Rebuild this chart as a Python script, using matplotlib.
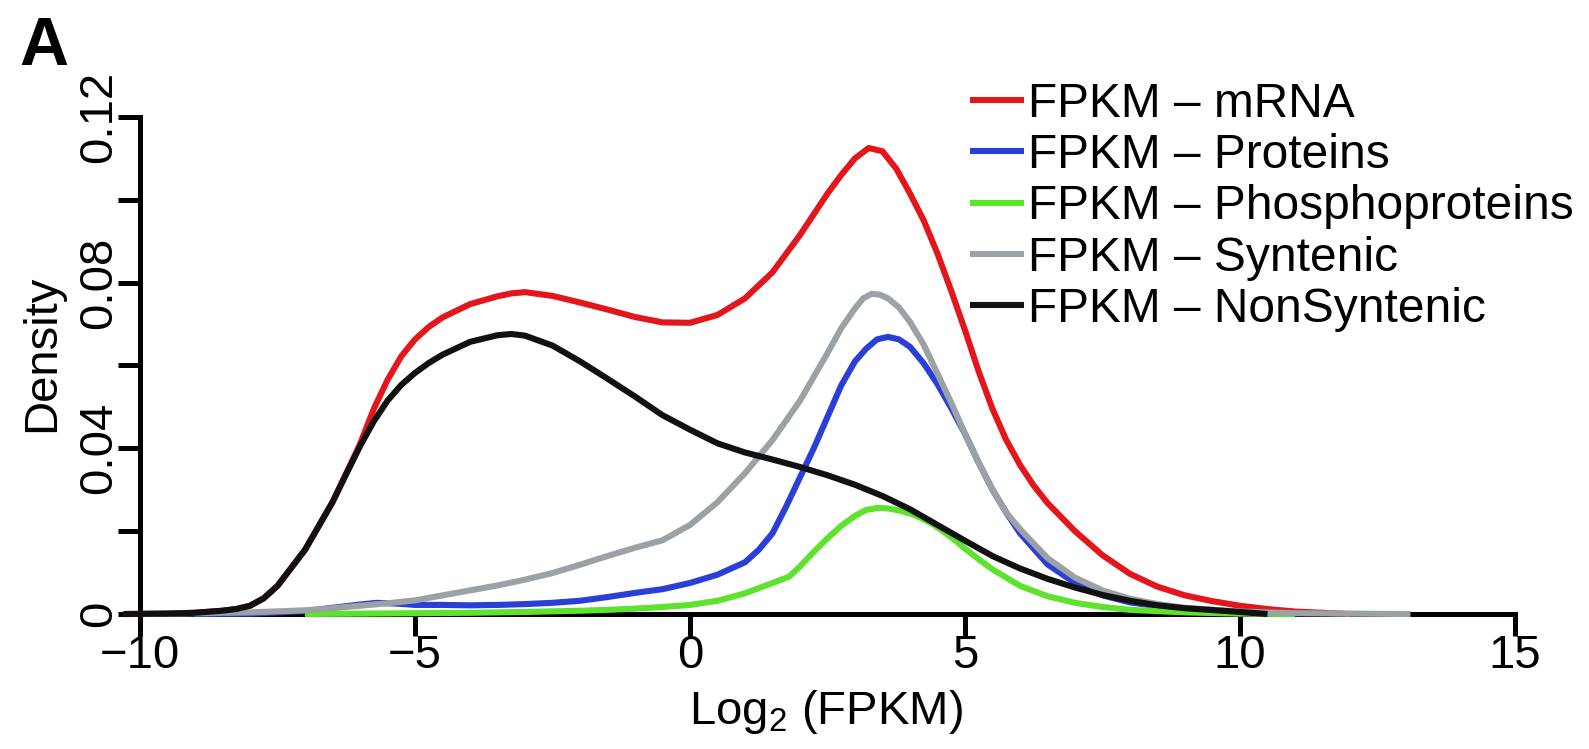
import matplotlib
matplotlib.use('Agg')
import matplotlib.pyplot as plt

plt.rcParams['font.family'] = ['Liberation Sans', 'DejaVu Sans']
plt.rcParams['mathtext.fontset'] = 'custom'
plt.rcParams['mathtext.rm'] = 'Liberation Sans'
plt.rcParams['mathtext.default'] = 'regular'

# ---------------- data ----------------
mrna_x = [-10.3, -9.5, -9, -8.5, -8.25, -8, -7.75, -7.5, -7, -6.5,
          -6, -5.75, -5.5, -5.25, -5, -4.75, -4.5, -4, -3.5, -3.25, -3,
          -2.5, -2, -1.5, -1, -0.5, 0, 0.5, 1, 1.5, 2,
          2.5, 2.75, 3, 3.25, 3.5, 3.75, 4, 4.25, 4.5, 4.75,
          5, 5.25, 5.5, 5.75, 6, 6.25, 6.5, 7, 7.5, 8,
          8.5, 9, 9.5, 10, 10.5, 11, 11.5, 12]
mrna_y = [0.0, 0.0001, 0.0003, 0.0008, 0.0012, 0.002, 0.0038, 0.0068, 0.0155, 0.027,
          0.041, 0.0495, 0.0565, 0.0622, 0.0663, 0.0693, 0.0716, 0.0748, 0.0767, 0.0774, 0.0777,
          0.0768, 0.0752, 0.0735, 0.0717, 0.0704, 0.0703, 0.0722, 0.0762, 0.0825, 0.0915,
          0.1015, 0.106, 0.11, 0.1125, 0.1117, 0.1075, 0.1015, 0.095, 0.087, 0.078,
          0.0685, 0.0585, 0.0495, 0.042, 0.036, 0.031, 0.0268, 0.02, 0.0142, 0.0097,
          0.0066, 0.0045, 0.0031, 0.002, 0.0012, 0.0006, 0.0003, 0.0]

prot_x = [-9, -8, -7, -6.5, -6, -5.7, -5.3, -5, -4.5, -4,
          -3.5, -3, -2.5, -2, -1.5, -1, -0.5, 0, 0.5, 1,
          1.25, 1.5, 1.75, 2, 2.25, 2.5, 2.75, 3, 3.2, 3.4,
          3.6, 3.8, 4, 4.25, 4.5, 4.75, 5, 5.25, 5.5, 5.75,
          6, 6.5, 7, 7.5, 8, 9, 10, 11]
prot_y = [0.0, 0.0001, 0.0007, 0.0015, 0.0023, 0.0027, 0.0025, 0.0022, 0.0022, 0.0021,
          0.0022, 0.0024, 0.0027, 0.0032, 0.0041, 0.0051, 0.006, 0.0075, 0.0095, 0.0125,
          0.0155, 0.0195, 0.026, 0.033, 0.04, 0.0476, 0.0552, 0.061, 0.064, 0.0663,
          0.0669, 0.0663, 0.0645, 0.0605, 0.0555, 0.0497, 0.0435, 0.0365, 0.03, 0.0245,
          0.0195, 0.012, 0.0075, 0.0045, 0.0028, 0.001, 0.0003, 0.0]

phos_x = [-7, -6, -5, -4, -3, -2, -1.5, -1, -0.5, 0,
          0.5, 1, 1.5, 1.8, 2, 2.25, 2.5, 2.75, 3, 3.2,
          3.4, 3.6, 3.8, 4, 4.2, 4.4, 4.6, 4.8, 5, 5.25,
          5.5, 6, 6.5, 7, 7.5, 8, 9, 10, 11]
phos_y = [0.0, 0.0001, 0.0002, 0.0003, 0.0005, 0.0008, 0.001, 0.0013, 0.0017, 0.0022,
          0.0032, 0.005, 0.0075, 0.009, 0.0115, 0.015, 0.0183, 0.0213, 0.0237, 0.0251,
          0.0256, 0.0255, 0.025, 0.0243, 0.0232, 0.0218, 0.02, 0.018, 0.0158, 0.0132,
          0.0108, 0.0068, 0.0043, 0.0027, 0.0017, 0.001, 0.0004, 0.0001, 0.0]

synt_x = [-10, -9, -8, -7, -6.5, -6, -5.5, -5, -4.5, -4,
          -3.5, -3, -2.5, -2, -1.5, -1, -0.5, 0, 0.5, 1,
          1.5, 2, 2.5, 2.75, 3, 3.15, 3.3, 3.45, 3.6, 3.8,
          4, 4.25, 4.5, 4.75, 5, 5.25, 5.5, 5.75, 6, 6.5,
          7, 7.5, 8, 8.5, 9, 10, 11, 12, 13.1]
synt_y = [0.0, 0.0002, 0.0004, 0.0009, 0.0014, 0.002, 0.0026, 0.0033, 0.0045, 0.0057,
          0.0069, 0.0083, 0.0099, 0.0119, 0.014, 0.016, 0.0178, 0.0215, 0.027, 0.034,
          0.042, 0.0515, 0.063, 0.069, 0.0738, 0.0762, 0.0773, 0.0771, 0.0762, 0.074,
          0.0705, 0.065, 0.058, 0.051, 0.0435, 0.0365, 0.03, 0.0245, 0.0205, 0.0135,
          0.0088, 0.0057, 0.0037, 0.0024, 0.0015, 0.0006, 0.0002, 0.0001, 0.0]

nonsynt_x = [-10.3, -9.5, -9, -8.5, -8.25, -8, -7.75, -7.5, -7, -6.5,
             -6.25, -6, -5.75, -5.5, -5.25, -5, -4.75, -4.5, -4, -3.5, -3.25, -3,
             -2.5, -2, -1.5, -1, -0.5, 0, 0.5, 1, 1.5, 2,
             2.5, 3, 3.5, 4, 4.5, 5, 5.5, 6, 6.5, 7,
             7.5, 8, 8.5, 9, 10, 10.5]
nonsynt_y = [0.0, 0.0001, 0.0003, 0.0008, 0.0012, 0.002, 0.0038, 0.0068, 0.0155, 0.027,
             0.0338, 0.0405, 0.0465, 0.0515, 0.0553, 0.0582, 0.0606, 0.0626, 0.0657, 0.0673, 0.0676, 0.0672,
             0.0648, 0.061, 0.0568, 0.0525, 0.048, 0.0445, 0.0412, 0.039, 0.0373, 0.0355,
             0.0335, 0.0312, 0.0285, 0.0253, 0.0215, 0.0177, 0.014, 0.011, 0.0085, 0.0064,
             0.0046, 0.0032, 0.0021, 0.0014, 0.0005, 0.0]

series_labels = ['FPKM – mRNA', 'FPKM – Proteins', 'FPKM – Phosphoproteins',
                 'FPKM – Syntenic', 'FPKM – NonSyntenic']
series_colors = ['#e3161b', '#2a3ed8', '#5fe22e', '#9ba2a6', '#111111']

x_ticks = [-10, -5, 0, 5, 10, 15]
x_tick_labels = ['\u221210', '\u22125', '0', '5', '10', '15']
y_ticks = [0, 0.02, 0.04, 0.06, 0.08, 0.10, 0.12]
y_tick_labels = ['0', '', '0.04', '', '0.08', '', '0.12']

# ---------------- figure ----------------
W, H = 1589, 749
fig = plt.figure(figsize=(W / 100, H / 100), dpi=100)

# axes placed so x=-10 -> 140 px, x=15 -> 1515 px, y=0 -> 614 px, y=0.12 -> 117 px
left_px, right_px = 112.5, 1542.5
top_px, bot_px = 96.2, 630.6
ax = fig.add_axes([left_px / W, 1 - bot_px / H, (right_px - left_px) / W, (bot_px - top_px) / H])
ax.set_xlim(-10.5, 15.5)
ax.set_ylim(-0.004, 0.125)

xs = [mrna_x, prot_x, phos_x, synt_x, nonsynt_x]
ys = [mrna_y, prot_y, phos_y, synt_y, nonsynt_y]
for x, y, lab, col in zip(xs, ys, series_labels, series_colors):
    ax.plot(x, y, color=col, lw=4.4, label=lab, zorder=3, clip_on=False,
            solid_joinstyle='round', solid_capstyle='butt')

for s in ['top', 'right']:
    ax.spines[s].set_visible(False)
ax.spines['left'].set_position(('data', -10))
ax.spines['left'].set_bounds(0, 0.12)
ax.spines['bottom'].set_position(('data', 0))
ax.spines['bottom'].set_bounds(-10, 15)
for s in ['left', 'bottom']:
    ax.spines[s].set_linewidth(3.6)
    ax.spines[s].set_color('black')

ax.set_xticks(x_ticks)
ax.set_xticklabels(x_tick_labels)
ax.set_yticks(y_ticks)
ax.set_yticklabels(y_tick_labels)
ax.tick_params(axis='both', direction='out', length=15.5, width=3.6, labelsize=34, color='black')
ax.tick_params(axis='x', pad=-1)
ax.tick_params(axis='y', pad=14)
for t in ax.get_yticklabels():
    t.set_rotation(90)
    t.set_ha('center')
    t.set_va('center')

fig.text(826 / W, 1 - 724 / H, r'Log$_{2}$ (FPKM)', ha='center', va='baseline', fontsize=34)
fig.text(42 / W, 1 - 353 / H, 'Density', rotation=90, ha='center', va='center', fontsize=34)
fig.text(19 / W, 1 - 65 / H, 'A', ha='left', va='baseline', fontsize=49, fontweight='bold')

leg = ax.legend(loc='upper left', bbox_to_anchor=(970 / W, 1 - 82 / H), bbox_transform=fig.transFigure,
                frameon=False, fontsize=34.5, handlelength=1.12, handletextpad=0.09,
                labelspacing=0.13, borderpad=0, borderaxespad=0)

fig.savefig('out.png', dpi=100)
